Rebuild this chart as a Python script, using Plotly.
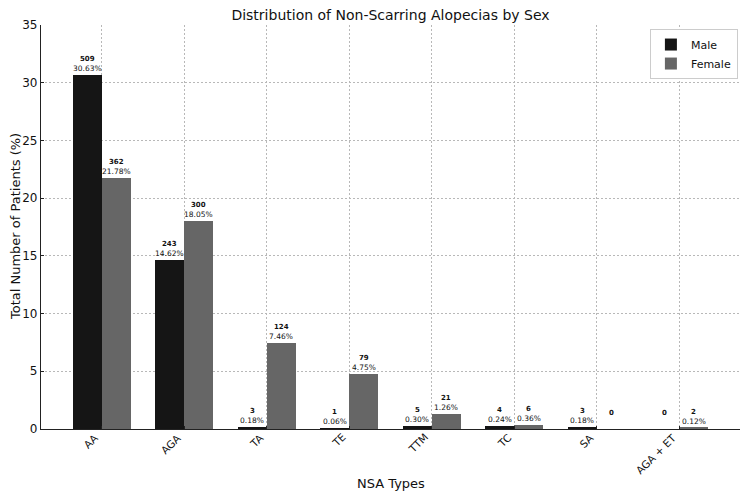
import math
import plotly.graph_objects as go

categories = ["AA", "AGA", "TA", "TE", "TTM", "TC", "SA", "AGA + ET"]
male_pct = [30.63, 14.62, 0.18, 0.06, 0.30, 0.24, 0.18, 0.0]
female_pct = [21.78, 18.05, 7.46, 4.75, 1.26, 0.36, 0.0, 0.12]
male_n = [509, 243, 3, 1, 5, 4, 3, 0]
female_n = [362, 300, 124, 79, 21, 6, 0, 2]

MALE_C = "#151515"
FEMALE_C = "#666666"
W = 0.35
FONT = "DejaVu Sans"
TICK_FS = 10.5

# approximate DejaVu Sans advance widths (em) for the rotated-label layout
CW = {"A": 0.684, "G": 0.775, "T": 0.611, "E": 0.632, "M": 0.863, "C": 0.698,
      "S": 0.635, " ": 0.318, "+": 0.838}

idx = list(range(len(categories)))
xm = [i - W / 2 for i in idx]
xf = [i + W / 2 for i in idx]

fig = go.Figure()
fig.add_trace(go.Bar(x=xm, y=male_pct, width=W, name="Male",
                     marker=dict(color=MALE_C, line=dict(width=0))))
fig.add_trace(go.Bar(x=xf, y=female_pct, width=W, name="Female",
                     marker=dict(color=FEMALE_C, line=dict(width=0))))

ann = []
for xs, pcts, ns in ((xm, male_pct, male_n), (xf, female_pct, female_n)):
    for x, p, n in zip(xs, pcts, ns):
        ann.append(dict(x=x, y=p, xref="x", yref="y", text=f"<b>{n}</b>",
                        showarrow=False, yanchor="bottom", yshift=10,
                        font=dict(size=7, color="#111", family=FONT)))
        if n > 0:
            ann.append(dict(x=x, y=p, xref="x", yref="y", text=f"{p:.2f}%",
                            showarrow=False, yanchor="bottom", yshift=0,
                            font=dict(size=7.5, color="#111", family=FONT)))

# rotated category labels: rotated bbox top-right just below/left of the tick
for i, c in zip(idx, categories):
    w = sum(CW.get(ch, 0.65) for ch in c) * TICK_FS
    s = (w + 0.73 * TICK_FS) / math.sqrt(2)
    ann.append(dict(x=i, y=0, xref="x", yref="paper", text=c, textangle=-45,
                    showarrow=False, xanchor="center", yanchor="middle",
                    xshift=-3 - s / 2, yshift=-4 - s / 2,
                    font=dict(size=TICK_FS, color="#111", family=FONT)))

# axis titles
ann.append(dict(x=0.5, y=0, xref="paper", yref="paper", text="NSA Types",
                showarrow=False, xanchor="center", yanchor="middle", yshift=-54,
                font=dict(size=13, color="#111", family=FONT)))
ann.append(dict(x=0, y=0.5, xref="paper", yref="paper",
                text="Total Number of Patients (%)", textangle=-90,
                showarrow=False, xanchor="center", yanchor="middle", xshift=-26,
                font=dict(size=13, color="#111", family=FONT)))

fig.update_layout(
    width=750, height=500,
    margin=dict(l=41, r=10, t=25, b=71),
    paper_bgcolor="white", plot_bgcolor="white",
    font=dict(family=FONT, color="#111"),
    title=dict(text="Distribution of Non-Scarring Alopecias by Sex",
               x=(41 + 740) / 2 / 750, xanchor="center", y=0.97, yanchor="middle",
               font=dict(size=14, family=FONT, color="#111")),
    bargap=0, showlegend=True,
    legend=dict(x=0.997, y=0.99, xanchor="right", yanchor="top",
                bgcolor="white", bordercolor="#cccccc", borderwidth=1,
                font=dict(size=11, family=FONT), tracegroupgap=0),
    annotations=ann,
)
fig.update_xaxes(range=[-0.735, 7.735], tickmode="array", tickvals=idx,
                 showticklabels=False, automargin=False,
                 showgrid=True, gridcolor="#b8b8b8", griddash="2px,2px", gridwidth=1,
                 showline=True, linecolor="#222", linewidth=1.2,
                 ticks="inside", ticklen=3, tickcolor="#222", zeroline=False)
fig.update_yaxes(range=[0, 35], tickmode="array", tickvals=[0, 5, 10, 15, 20, 25, 30, 35],
                 tickfont=dict(size=12, family=FONT, color="#111"), automargin=False,
                 showgrid=True, gridcolor="#b8b8b8", griddash="2px,2px", gridwidth=1,
                 showline=True, linecolor="#222", linewidth=1.2,
                 ticks="inside", ticklen=3, tickcolor="#222",
                 zeroline=False)

fig.write_html("out.html")
